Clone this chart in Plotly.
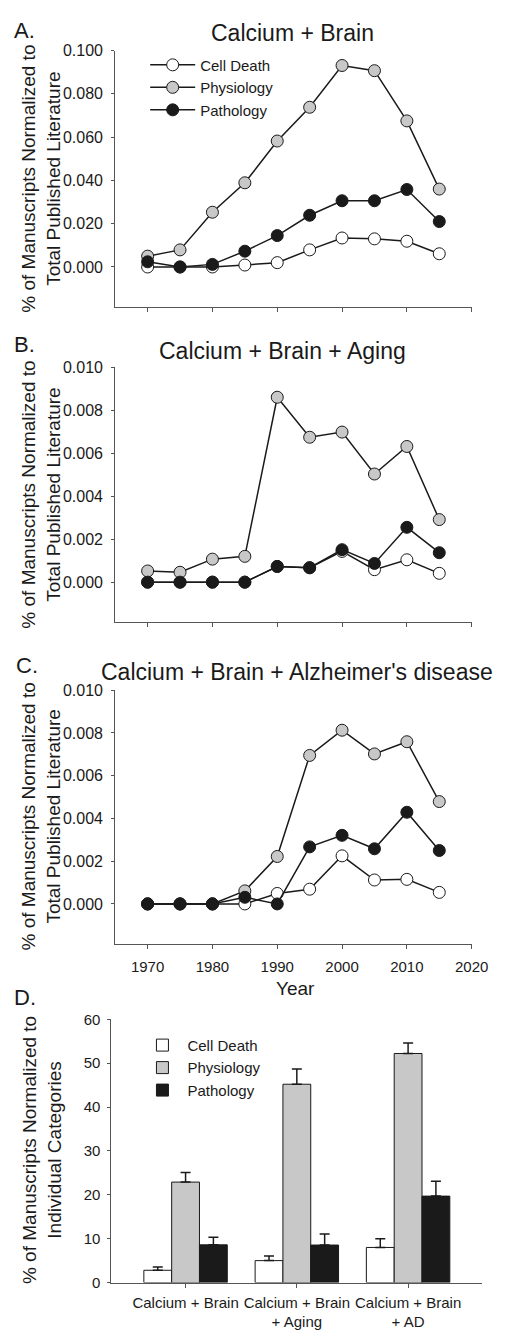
import plotly.graph_objects as go

# The page body has an 8px default margin; the figure is sized/placed to compensate
OFF = 8
W, H = 508 - OFF, 1334 - OFF
FONT = "Liberation Sans, Arial, sans-serif"
TXT = "#1a1a1a"
GREY = "#c8c8c8"
BLACK = "#1a1a1a"

years = [1970, 1975, 1980, 1985, 1990, 1995, 2000, 2005, 2010, 2015]
series_names = ["Cell Death", "Physiology", "Pathology"]
marker_fill = ["#ffffff", GREY, BLACK]

# Panel A: Calcium + Brain
a_cell = [0.0000, 0.0000, 0.0000, 0.0009, 0.0020, 0.0079, 0.0134, 0.0130, 0.0119, 0.0061]
a_phys = [0.0050, 0.0079, 0.0253, 0.0389, 0.0582, 0.0738, 0.0931, 0.0907, 0.0675, 0.0360]
a_path = [0.0024, 0.0000, 0.0012, 0.0073, 0.0145, 0.0239, 0.0306, 0.0306, 0.0358, 0.0210]

# Panel B: Calcium + Brain + Aging
b_cell = [0.0000, 0.0000, 0.0000, 0.0000, 0.00073, 0.00067, 0.00143, 0.00058, 0.00104, 0.00041]
b_phys = [0.00052, 0.00046, 0.00107, 0.00120, 0.00860, 0.00674, 0.00698, 0.00503, 0.00631, 0.00291]
b_path = [0.0000, 0.0000, 0.0000, 0.0000, 0.00073, 0.00067, 0.00151, 0.00087, 0.00255, 0.00137]

# Panel C: Calcium + Brain + Alzheimer's disease
c_cell = [0.0000, 0.0000, 0.0000, 0.0000, 0.00049, 0.00069, 0.00225, 0.00112, 0.00115, 0.00054]
c_phys = [0.0000, 0.0000, 0.0000, 0.00061, 0.00222, 0.00695, 0.00813, 0.00702, 0.00759, 0.00479]
c_path = [0.0000, 0.0000, 0.0000, 0.00031, 0.0000, 0.00267, 0.00321, 0.00258, 0.00429, 0.00250]

year_ticks = [1970, 1980, 1990, 2000, 2010, 2020]
a_ticks = [0.0, 0.02, 0.04, 0.06, 0.08, 0.10]
bc_ticks = [0.0, 0.002, 0.004, 0.006, 0.008, 0.010]

# Panel D: bars
d_categories = ["Calcium + Brain", "Calcium + Brain<br>+ Aging", "Calcium + Brain<br>+ AD"]
d_cell = [2.8, 5.0, 8.0]
d_phys = [22.9, 45.2, 52.2]
d_path = [8.6, 8.55, 19.7]
d_cell_err = [0.75, 1.05, 2.0]
d_phys_err = [2.2, 3.45, 2.4]
d_path_err = [1.7, 2.5, 3.4]
d_ticks = [0, 10, 20, 30, 40, 50, 60]

fig = go.Figure()

def px_x(p):
    return (p - OFF) / W

def px_y(p):
    return 1 - (p - OFF) / H

# Domains (page pixel positions)
dom = {
    "A": ([119, 488], [42, 302]),
    "B": ([119, 488], [362.7, 621]),
    "C": ([119, 488], [690, 946.7]),
    "D": ([115, 499], [1023.3, 1290]),
}

line_panels = [("A", "x", "y", [a_cell, a_phys, a_path]),
               ("B", "x2", "y2", [b_cell, b_phys, b_path]),
               ("C", "x3", "y3", [c_cell, c_phys, c_path])]

for key, xr, yr, data in line_panels:
    for i, (name, vals) in enumerate(zip(series_names, data)):
        fig.add_trace(go.Scatter(
            x=years, y=vals, name=name, mode="lines+markers",
            xaxis=xr, yaxis=yr,
            line=dict(color=BLACK, width=1.5),
            marker=dict(size=12, color=marker_fill[i], line=dict(color=BLACK, width=1)),
            showlegend=(key == "A"), legend="legend",
        ))

bar_fill = ["#ffffff", GREY, BLACK]
for name, vals, errs, col in zip(series_names, [d_cell, d_phys, d_path],
                                 [d_cell_err, d_phys_err, d_path_err], bar_fill):
    fig.add_trace(go.Bar(
        x=d_categories, y=vals, name=name, xaxis="x4", yaxis="y4",
        marker=dict(color=col, line=dict(color=BLACK, width=1)),
        error_y=dict(type="data", array=errs, arrayminus=[0] * len(errs),
                     symmetric=False, color=BLACK, thickness=1.5, width=5),
        legend="legend2",
    ))

axis_common = dict(showline=True, linecolor="#555555", linewidth=1, showgrid=False,
                   zeroline=False, ticks="outside", tickcolor="#555555")

layout = dict(
    width=W, height=H, margin=dict(l=0, r=0, t=0, b=0),
    paper_bgcolor="white", plot_bgcolor="white",
    font=dict(family=FONT, color=TXT),
    barmode="group", bargap=0.25, bargroupgap=0,
)

for idx, key in enumerate(["A", "B", "C"]):
    xs = "xaxis" if idx == 0 else f"xaxis{idx+1}"
    ys = "yaxis" if idx == 0 else f"yaxis{idx+1}"
    (x0, x1), (yt, yb) = dom[key]
    ytop = a_ticks[-1] if key == "A" else bc_ticks[-1]
    ybot = -0.186 * ytop
    layout[xs] = dict(axis_common, domain=[px_x(x0), px_x(x1)], range=[1965, 2020],
                      tickvals=year_ticks, showticklabels=(key == "C"),
                      ticklen=4, ticklabelstandoff=5,
                      tickfont=dict(family=FONT, size=15, color=TXT),
                      anchor=("y" if idx == 0 else f"y{idx+1}"))
    tv = a_ticks if key == "A" else bc_ticks
    layout[ys] = dict(axis_common, domain=[px_y(yb), px_y(yt)], range=[ybot, ytop],
                      tickvals=tv, ticktext=[f"{v:.3f}" for v in tv],
                      ticklen=3, ticklabelstandoff=5,
                      tickfont=dict(family=FONT, size=16, color=TXT),
                      anchor=("x" if idx == 0 else f"x{idx+1}"))

(x0, x1), (yt, yb) = dom["D"]
layout["xaxis4"] = dict(axis_common, domain=[px_x(x0), px_x(x1)], range=[-0.667, 2.667],
                        type="category", anchor="y4", ticklen=4, ticklabelstandoff=2,
                        tickfont=dict(family=FONT, size=15, color=TXT))
layout["yaxis4"] = dict(axis_common, domain=[px_y(yb), px_y(yt)], range=[0, 60],
                        tickvals=d_ticks, anchor="x4", ticklen=3, ticklabelstandoff=4,
                        tickfont=dict(family=FONT, size=15, color=TXT))

layout["legend"] = dict(x=px_x(150), y=px_y(40), xanchor="left", yanchor="top",
                        bgcolor="rgba(0,0,0,0)", font=dict(family=FONT, size=15, color=TXT),
                        itemwidth=45, tracegroupgap=0)
layout["legend2"] = dict(x=px_x(142), y=px_y(1033), xanchor="left", yanchor="top",
                         bgcolor="rgba(0,0,0,0)", font=dict(family=FONT, size=15, color=TXT),
                         itemwidth=40, tracegroupgap=0)

fig.update_layout(**layout)

ann = []
def add_text(text, x, y, size, angle=0, xanchor="center"):
    ann.append(dict(text=text, x=px_x(x), y=px_y(y), xref="paper", yref="paper",
                    showarrow=False, xanchor=xanchor, yanchor="middle", textangle=angle,
                    font=dict(family=FONT, size=size, color=TXT)))

# panel letters
add_text("A.", 12, 22, 22, xanchor="left")
add_text("B.", 12, 340, 22, xanchor="left")
add_text("C.", 14, 665, 22, xanchor="left")
add_text("D.", 12, 1001, 22, xanchor="left")
# panel titles
add_text("Calcium + Brain", 302, 24, 23)
add_text("Calcium + Brain + Aging", 292, 346, 23)
add_text("Calcium + Brain + Alzheimer's disease", 307, 672, 23)
# x title
add_text("Year", 306, 992, 19)
# y titles
yt_top = "% of Manuscripts Normalized to<br>Total Published Literature"
add_text(yt_top, 42, 172, 19, angle=-90)
add_text(yt_top, 42, 492, 19, angle=-90)
add_text(yt_top, 42, 818, 19, angle=-90)
add_text("% of Manuscripts Normalized to<br>Individual Categories", 44, 1156, 19, angle=-90)

fig.update_layout(annotations=ann)
fig.write_html("out.html")
